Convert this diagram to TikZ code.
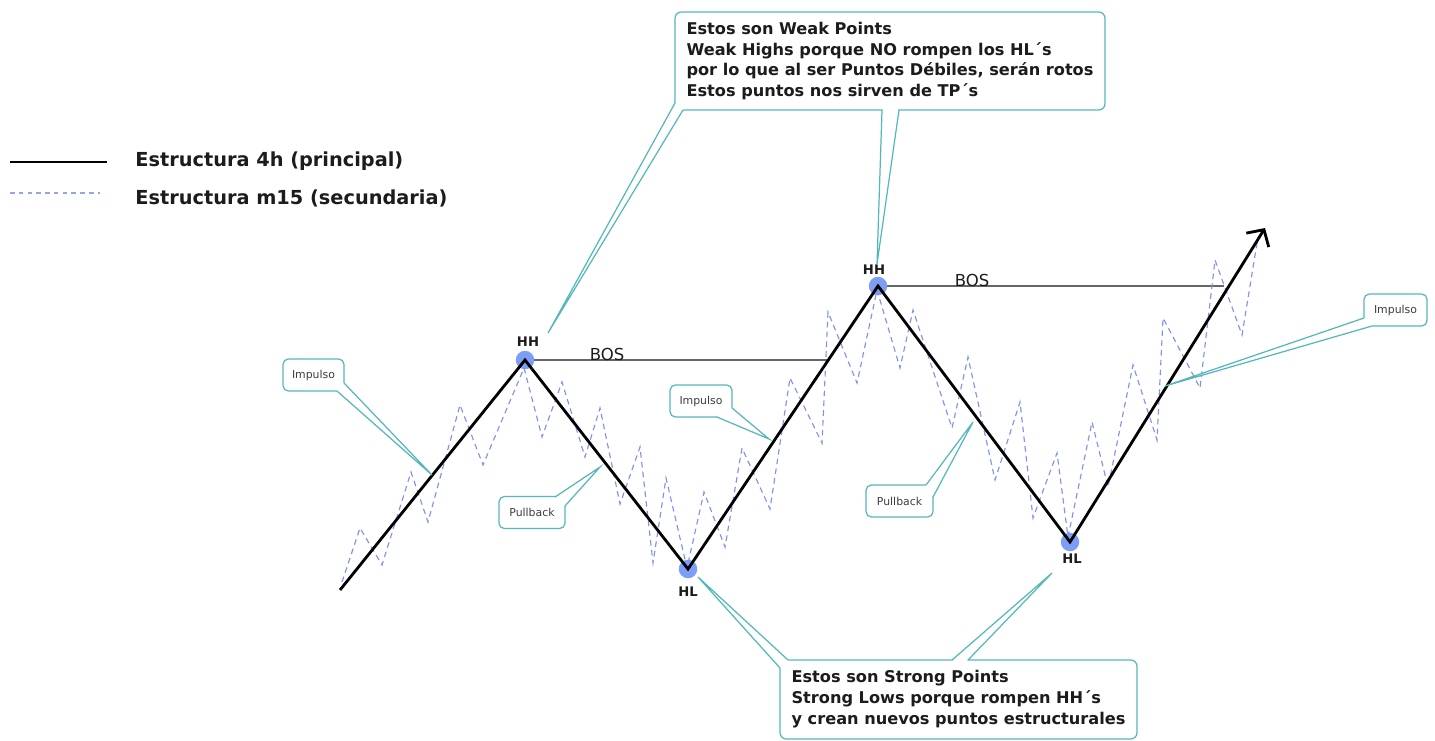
\documentclass[tikz,border=0pt]{standalone}
\usepackage{fontspec}
\setmainfont{DejaVu Sans}
\usetikzlibrary{arrows.meta}
\definecolor{teal1}{RGB}{84,184,186}
\definecolor{dotblue}{RGB}{125,158,245}
\definecolor{dashblue}{RGB}{128,146,236}
\definecolor{legblue}{RGB}{150,165,225}
\definecolor{txt}{RGB}{28,28,28}
\newcommand{\ctail}[4]{\fill[white] #1 -- #2 -- #3 -- #4 -- cycle; \draw[tailline] #1 -- #2 -- #3;}
\begin{document}
\begin{tikzpicture}[x=0.02cm,y=-0.02cm,
  h4line/.style={line width=1.6pt, black, line join=miter},
  m15line/.style={dashblue, line width=0.65pt, dash pattern=on 3.2pt off 2.4pt},
  legdash/.style={legblue, line width=0.6pt, dash pattern=on 2.6pt off 2.4pt},
  bosline/.style={black!60, line width=0.6pt},
  boslabel/.style={font=\fontsize{9.4}{11}\selectfont, text=txt, inner sep=0pt},
  legtext/.style={font=\bfseries\fontsize{11}{13}\selectfont, text=txt, inner sep=0pt, anchor=west},
  bigbox/.style={draw=teal1, line width=0.7pt, fill=white, rounded corners=3.5pt, align=left,
     font=\bfseries\fontsize{9.2}{11.9}\selectfont, text=txt, inner sep=0pt},
  smallbox/.style={draw=teal1, line width=0.7pt, fill=white, rounded corners=3pt,
     font=\fontsize{6.2}{7}\selectfont, text=txt!85, inner sep=0pt, minimum height=0.64cm},
  tailline/.style={teal1, line width=0.7pt, line join=miter},
  ptlabel/.style={font=\bfseries\fontsize{7.5}{9}\selectfont, text=txt, inner sep=0pt},
  dot/.style={circle, fill=dotblue, inner sep=0pt, minimum size=0.37cm}
]
\useasboundingbox (0,0) rectangle (1435,740);

% legend
\coordinate (la) at (10,162);
\coordinate (lb) at (107,162);
\coordinate (lc) at (10,193);
\coordinate (ld) at (100,193);
\draw[h4line] (la) -- (lb);
\draw[legdash] (lc) -- (ld);
\node[legtext] (leg1) at (135,161) {Estructura 4h (principal)};
\node[legtext] (leg2) at (135,198) {Estructura m15 (secundaria)};

% main structure points
\coordinate (s0) at (340,590);
\coordinate (hh1) at (525,360);
\coordinate (hl1) at (688,569);
\coordinate (hh2) at (878,286);
\coordinate (hl2) at (1070,542);
\coordinate (top) at (1265,228);
\coordinate (bos1end) at (827,360);
\coordinate (bos2end) at (1224,286);

% BOS lines
\draw[bosline] (hh1) -- (bos1end);
\draw[bosline] (hh2) -- (bos2end);
\node[boslabel] (bos1) at (607,354) {BOS};
\node[boslabel] (bos2) at (972,280) {BOS};

% dots
\node[dot] (dhh1) at (hh1) {};
\node[dot] (dhl1) at (hl1) {};
\node[dot] (dhh2) at (hh2) {};
\node[dot] (dhl2) at (hl2) {};

% m15 structure
\draw[m15line] (342,582) -- (360,528) -- (382,565) -- (411,472) -- (428,522) -- (460,405) -- (483,465)
  -- (524,368) -- (542,437) -- (562,382) -- (585,457) -- (600,408) -- (620,504) -- (640,447)
  -- (653,563) -- (666,478) -- (687,568) -- (704,492) -- (725,547) -- (742,448) -- (770,509)
  -- (790,378) -- (822,443) -- (828,312) -- (857,383) -- (877,290) -- (900,368) -- (913,310)
  -- (952,428) -- (968,357) -- (995,480) -- (1020,402) -- (1033,518) -- (1057,453) -- (1068,537)
  -- (1092,422) -- (1108,487) -- (1133,365) -- (1157,440) -- (1163,318) -- (1200,388)
  -- (1215,260) -- (1242,335) -- (1258,237);

% 4h structure
\draw[h4line, -{Straight Barb[length=7pt,width=15pt]}] (s0) -- (hh1) -- (hl1) -- (hh2) -- (hl2) -- (top);

% point labels
\node[ptlabel] (lhh1) at (528,342) {HH};
\node[ptlabel] (lhh2) at (874,270) {HH};
\node[ptlabel] (lhl1) at (688,592) {HL};
\node[ptlabel] (lhl2) at (1072,559) {HL};

% big callouts
\node[bigbox, minimum width=8.6cm, minimum height=1.96cm] (weak) at (890,61)
  {Estos son Weak Points\\Weak Highs porque NO rompen los HL´s\\por lo que al ser Puntos Débiles, serán rotos\\Estos puntos nos sirven de TP´s};
\node[bigbox, minimum width=7.14cm, minimum height=1.58cm] (strong) at (958.5,699.5)
  {Estos son Strong Points\\Strong Lows porque rompen HH´s\\y crean nuevos puntos estructurales};

% small callouts
\node[smallbox, minimum width=1.22cm] (imp1) at (313.5,375) {Impulso};
\node[smallbox, minimum width=1.32cm] (pb1) at (532,512.5) {Pullback};
\node[smallbox, minimum width=1.24cm] (imp2) at (701,401) {Impulso};
\node[smallbox, minimum width=1.34cm] (pb2) at (899.5,501) {Pullback};
\node[smallbox, minimum width=1.26cm] (imp3) at (1395.5,310) {Impulso};

% tail tips
\coordinate (tw1) at (548,333);
\coordinate (tw2) at (877,264);
\coordinate (ts1) at (698,577);
\coordinate (ts2) at (1052,573);
\coordinate (ti1) at (432,475);
\coordinate (tp1) at (600,467);
\coordinate (ti2) at (769,439);
\coordinate (tp2) at (973,422);
\coordinate (ti3) at (1165,386);

% tails
\ctail{(675,103)}{(tw1)}{(683,110)}{(683,103)}
\ctail{(882,110)}{(tw2)}{(899,110)}{(890,106)}
\ctail{(780,668)}{(ts1)}{(788,660)}{(788,668)}
\ctail{(952,660)}{(ts2)}{(968,660)}{(960,664)}
\ctail{(337,391)}{(ti1)}{(344,383)}{(338,384)}
\ctail{(555,497)}{(tp1)}{(565,506)}{(559,503)}
\ctail{(717,417)}{(ti2)}{(732,408)}{(724,410)}
\ctail{(926,485)}{(tp2)}{(933,497)}{(927,491)}
\ctail{(1364,318)}{(ti3)}{(1372,326)}{(1371,319)}
\end{tikzpicture}
\end{document}
